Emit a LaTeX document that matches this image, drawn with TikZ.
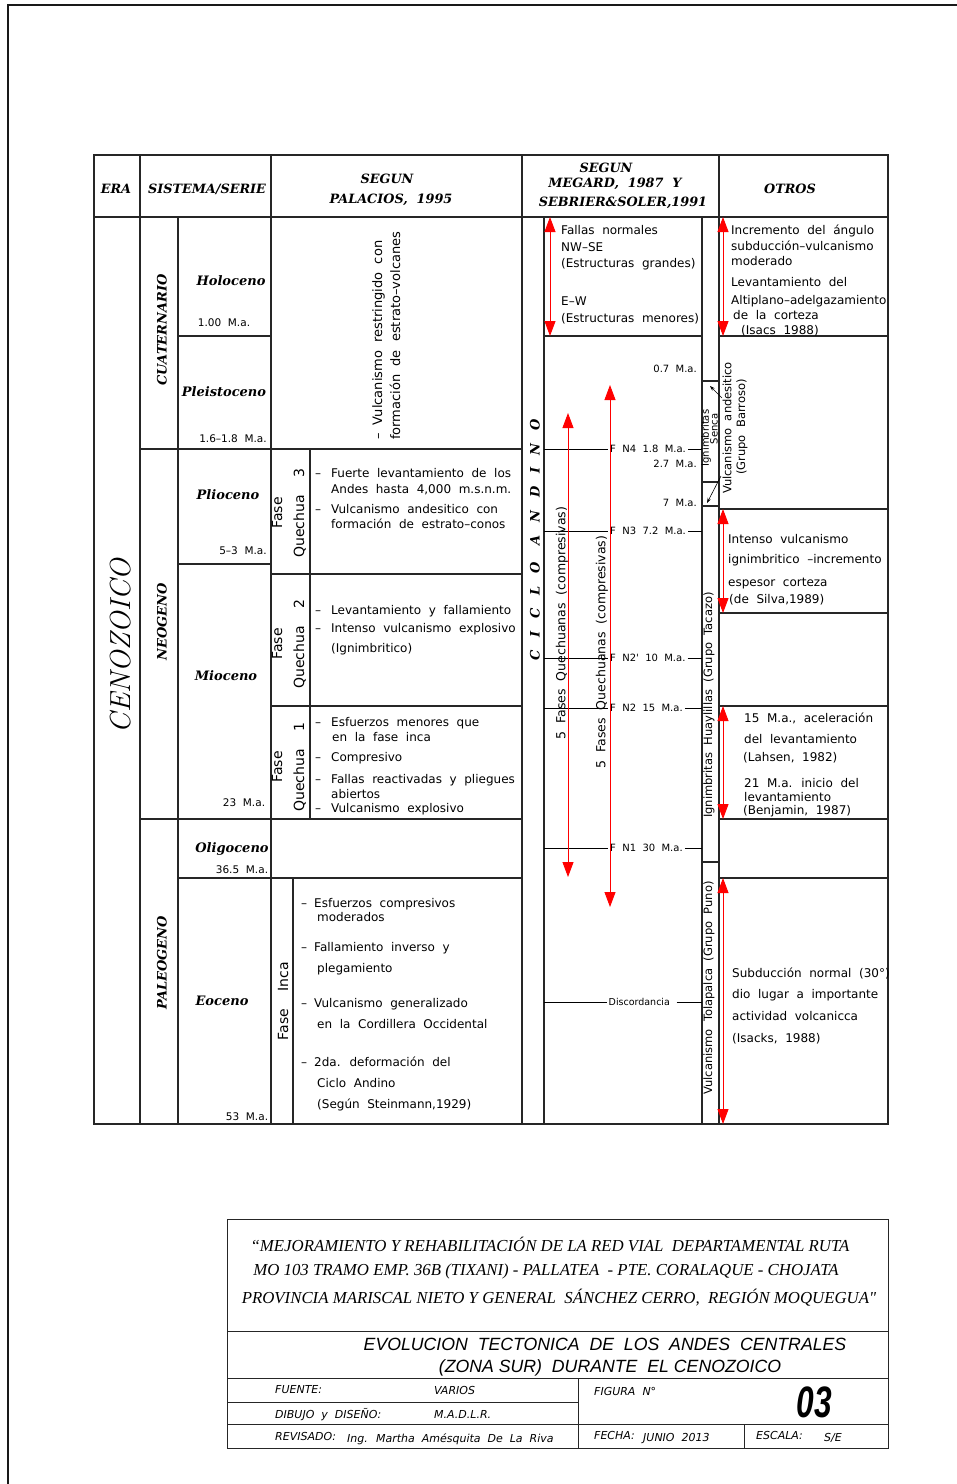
\documentclass[tikz,border=0pt]{standalone}
\usepackage{fontspec}
\usetikzlibrary{arrows.meta}
\newfontfamily\cad[WordSpace=2.0]{DejaVu Sans}
\newfontfamily\tnr{Liberation Serif}
\newfontfamily\ars{Liberation Sans}
\newfontfamily\dvs{DejaVu Serif}
\newfontfamily\cicl[LetterSpace=98]{DejaVu Serif}
\newcommand\dsh[1][16pt]{\makebox[#1][l]{–}}
\begin{document}
\begin{tikzpicture}[x=1pt,y=-1pt,
  tline/.style={line width=1.3pt,draw=black!85},
  bline/.style={line width=1pt,draw=black!85},
  lthin/.style={line width=0.8pt,draw=black},
  tx/.style={font=\cad\fontsize{12}{14}\selectfont,inner sep=0pt,anchor=base west},
  rtx/.style={font=\cad\fontsize{11.5}{13}\selectfont,inner sep=0pt,rotate=90},
  big/.style={font=\cad\fontsize{14}{22}\selectfont,inner sep=0pt,rotate=90,align=center},
  fl/.style={font=\cad\fontsize{10}{12}\selectfont,inner xsep=2pt,inner ysep=0pt,text height=7.3pt,text depth=0pt,anchor=west},
  age/.style={font=\cad\fontsize{10.5}{12}\selectfont,inner sep=0pt},
  hd/.style={font=\dvs\bfseries\itshape\fontsize{12.8}{14}\selectfont,inner sep=0pt},
  ser/.style={font=\dvs\bfseries\itshape\fontsize{13}{15}\selectfont,inner sep=0pt},
  sys/.style={font=\dvs\bfseries\itshape\fontsize{13}{15}\selectfont,inner sep=0pt,rotate=90},
  rarr/.style={draw=red,line width=0.9pt,{Triangle[length=15pt,width=11pt]}-{Triangle[length=15pt,width=11pt]}},
  lead/.style={draw=black,line width=0.6pt,-{Stealth[length=5pt,width=3.5pt]}},
  prj/.style={font=\tnr\itshape\fontsize{16.8}{19}\selectfont,inner sep=0pt,anchor=base},
  ttl/.style={font=\ars\itshape\fontsize{17.7}{20}\selectfont,inner sep=0pt,anchor=base},
  lab/.style={font=\cad\itshape\fontsize{11}{13}\selectfont,inner sep=0pt,anchor=base west},
]
\useasboundingbox (0,0) rectangle (957,1484);
\fill[white] (0,0) rectangle (957,1484);
% page frame
\draw[line width=1.6pt,black!90] (957,5) -- (8,5) -- (8,1484);

% ---------- table grid ----------
\draw[tline] (94,155) rectangle (888,1124);
\draw[tline] (94,217) -- (888,217);
\draw[tline] (140,155) -- (140,1124);
\draw[tline] (271,155) -- (271,1124);
\draw[tline] (522,155) -- (522,1124);
\draw[tline] (719,155) -- (719,1124);
\draw[tline] (178,217) -- (178,1124);
\draw[tline] (544,217) -- (544,1124);
\draw[tline] (702,217) -- (702,1124);
\draw[tline] (310,449) -- (310,819);
\draw[tline] (293,878) -- (293,1124);
\draw[tline] (178,336) -- (271,336);
\draw[tline] (140,449) -- (522,449);
\draw[tline] (178,564) -- (271,564);
\draw[tline] (271,574) -- (522,574);
\draw[tline] (271,706) -- (522,706);
\draw[tline] (140,819) -- (522,819);
\draw[tline] (178,878) -- (522,878);
\draw[tline] (544,336) -- (702,336);
\draw[tline] (719,336) -- (888,336);
\draw[tline] (719,509) -- (888,509);
\draw[tline] (719,613) -- (888,613);
\draw[tline] (719,706) -- (888,706);
\draw[tline] (719,819) -- (888,819);
\draw[tline] (719,878) -- (888,878);
\draw[tline] (702,381) -- (719,381);
\draw[tline] (702,482) -- (719,482);
\draw[tline] (702,506) -- (719,506);
\draw[tline] (702,862) -- (719,862);

% ---------- headers ----------
\node[hd] (hEra) at (116,189) {ERA};
\node[hd] (hSis) at (207,189) {SISTEMA/SERIE};
\node[hd] (hPal1) at (387,179) {SEGUN};
\node[hd] (hPal2) at (391,200) {PALACIOS,\ \ 1995};
\node[hd] (hMeg1) at (606,168) {SEGUN};
\node[hd] (hMeg2) at (615,184) {MEGARD,\ \ 1987\ \ Y};
\node[hd] (hMeg3) at (623,203) {SEBRIER\&SOLER,1991};
\node[hd] (hOtr) at (790,189) {OTROS};

% ---------- era / systems / series ----------
\node[font=\itshape\fontsize{29}{31}\selectfont,inner sep=0pt,rotate=90] (era) at (121,646) {CENOZOICO};
\node[sys] (s1) at (162,330) {CUATERNARIO};
\node[sys] (s2) at (162,622) {NEOGENO};
\node[sys] (s3) at (162,963) {PALEOGENO};
\node[ser] (r1) at (231,281) {Holoceno};
\node[ser] (r2) at (224,392) {Pleistoceno};
\node[ser] (r3) at (228,495) {Plioceno};
\node[ser] (r4) at (226,676) {Mioceno};
\node[ser] (r5) at (232,849) {Oligoceno};
\node[ser] (r6) at (222,1001) {Eoceno};
\node[age] (g1) at (224,323) {1.00 M.a.};
\node[age] (g2) at (233,439) {1.6–1.8 M.a.};
\node[age] (g3) at (243,551) {5–3 M.a.};
\node[age] (g4) at (244,803) {23 M.a.};
\node[age] (g5) at (242,870) {36.5 M.a.};
\node[age] (g6) at (247,1117) {53 M.a.};

% ---------- Palacios ----------
\node[big,font=\cad\fontsize{13}{15}\selectfont,anchor=base west,align=left] (v1) at (382,440) {– Vulcanismo restringido con};
\node[big,font=\cad\fontsize{13}{15}\selectfont,anchor=base west,align=left] (v2) at (400,440) {formación de estrato–volcanes};
\node[big] (q3) at (289,513) {Fase\\Quechua\ \ 3};
\node[big] (q2) at (289,644) {Fase\\Quechua\ \ 2};
\node[big] (q1) at (289,767) {Fase\\Quechua\ \ 1};
\node[big] (qi) at (283,1001) {Fase\ \ Inca};

\node[tx] (a1) at (315,477) {\dsh Fuerte levantamiento de los};
\node[tx] (a2) at (331,493) {Andes hasta 4,000 m.s.n.m.};
\node[tx] (a3) at (315,513) {\dsh Vulcanismo andesitico con};
\node[tx] (a4) at (331,528) {formación de estrato–conos};
\node[tx] (b1) at (315,614) {\dsh Levantamiento y fallamiento};
\node[tx] (b2) at (315,632) {\dsh Intenso vulcanismo explosivo};
\node[tx] (b3) at (331,652) {(Ignimbritico)};
\node[tx] (c1) at (315,726) {\dsh Esfuerzos menores que};
\node[tx] (c2) at (332,741) {en la fase inca};
\node[tx] (c3) at (315,761) {\dsh Compresivo};
\node[tx] (c4) at (315,783) {\dsh Fallas reactivadas y pliegues};
\node[tx] (c5) at (331,798) {abiertos};
\node[tx] (c6) at (315,812) {\dsh Vulcanismo explosivo};
\node[tx] (d1) at (301,907) {\dsh[13pt]Esfuerzos compresivos};
\node[tx] (d2) at (317,921) {moderados};
\node[tx] (d3) at (301,951) {\dsh[13pt]Fallamiento inverso y};
\node[tx] (d4) at (317,972) {plegamiento};
\node[tx] (d5) at (301,1007) {\dsh[13pt]Vulcanismo generalizado};
\node[tx] (d6) at (317,1028) {en la Cordillera Occidental};
\node[tx] (d7) at (301,1066) {\dsh[13pt]2da. deformación del};
\node[tx] (d8) at (317,1087) {Ciclo Andino};
\node[tx] (d9) at (317,1108) {(Según Steinmann,1929)};

% ---------- Megard / Sebrier ----------
\node[font=\cicl\bfseries\itshape\fontsize{13}{15}\selectfont,inner sep=0pt,rotate=90] (ciclo) at (535,540) {CICLO ANDINO};
\node[tx] (m1) at (561,234) {Fallas normales};
\node[tx] (m2) at (561,251) {NW–SE};
\node[tx] (m3) at (561,267) {(Estructuras grandes)};
\node[tx] (m4) at (561,305) {E–W};
\node[tx] (m5) at (561,322) {(Estructuras menores)};
\node[rtx,font=\cad\fontsize{12.5}{14}\selectfont] (fq1) at (562,623) {5 Fases Quechuanas (compresivas)};
\node[rtx,font=\cad\fontsize{12.5}{14}\selectfont] (fq2) at (602,652) {5 Fases Quechuanas (compresivas)};

\node[fl,anchor=east] (k1) at (699,369) {0.7 M.a.};
\node[fl,anchor=east] (k2) at (699,464) {2.7 M.a.};
\node[fl,anchor=east] (k3) at (699,503) {7 M.a.};

\coordinate (fL1) at (544,449); \coordinate (fR1) at (702,449);
\coordinate (fL2) at (544,531); \coordinate (fR2) at (702,531);
\coordinate (fL3) at (544,658); \coordinate (fR3) at (702,658);
\coordinate (fL4) at (544,708); \coordinate (fR4) at (702,708);
\coordinate (fL5) at (544,848); \coordinate (fR5) at (702,848);
\coordinate (fL6) at (544,1002); \coordinate (fR6) at (702,1002);
\node[fl] (f1) at (608,449) {F N4 1.8 M.a.};
\node[fl] (f2) at (608,531) {F N3 7.2 M.a.};
\node[fl] (f3) at (608,658) {F N2' 10 M.a.};
\node[fl] (f4) at (608,708) {F N2 15 M.a.};
\node[fl] (f5) at (608,848) {F N1 30 M.a.};
\node[fl,font=\cad\fontsize{9.5}{11}\selectfont,inner xsep=1.5pt] (f6) at (607,1002) {Discordancia};
\draw[lthin] (fL1) -- (f1.west); \draw[lthin] (f1.east) -- (fR1);
\draw[lthin] (fL2) -- (f2.west); \draw[lthin] (f2.east) -- (fR2);
\draw[lthin] (fL3) -- (f3.west); \draw[lthin] (f3.east) -- (fR3);
\draw[lthin] (fL4) -- (f4.west); \draw[lthin] (f4.east) -- (fR4);
\draw[lthin] (fL5) -- (f5.west); \draw[lthin] (f5.east) -- (fR5);
\draw[lthin] (fL6) -- (f6.west); \draw[lthin] ([xshift=5pt]f6.east) -- (fR6);

% narrow volcanic column
\node[rtx,font=\cad\fontsize{10}{11}\selectfont] (ig1) at (706,438) {Ignimbritas};
\node[rtx,font=\cad\fontsize{10}{11}\selectfont] (ig2) at (714,429) {Senca};
\node[rtx] (va1) at (727,428) {Vulcanismo andesitico};
\node[rtx] (va2) at (742,427) {(Grupo Barroso)};
\node[rtx] (hu) at (709,705) {Ignimbritas Huaylillas (Grupo Tacazo)};
\node[rtx] (tp) at (709,988) {Vulcanismo Tolapalca (Grupo Puno)};
\coordinate (ld1s) at (722,398); \coordinate (ld1e) at (710,386);
\coordinate (ld2s) at (721,476); \coordinate (ld2e) at (707,503);
\draw[lead] (ld1s) -- (ld1e);
\draw[lead] (ld2s) -- (ld2e);

% ---------- Otros ----------
\node[tx] (o1) at (731,234) {Incremento del ángulo};
\node[tx] (o2) at (731,250) {subducción–vulcanismo};
\node[tx] (o3) at (731,265) {moderado};
\node[tx] (o4) at (731,286) {Levantamiento del};
\node[tx] (o5) at (731,304) {Altiplano–adelgazamiento};
\node[tx] (o6) at (733,319) {de la corteza};
\node[tx] (o7) at (741,334) {(Isacs 1988)};
\node[tx] (o8) at (728,543) {Intenso vulcanismo};
\node[tx] (o9) at (728,563) {ignimbritico –incremento};
\node[tx] (o10) at (728,586) {espesor corteza};
\node[tx] (o11) at (729,603) {(de Silva,1989)};
\node[tx] (o12) at (744,722) {15 M.a., aceleración};
\node[tx] (o13) at (744,743) {del levantamiento};
\node[tx] (o14) at (743,761) {(Lahsen, 1982)};
\node[tx] (o15) at (744,787) {21 M.a. inicio del};
\node[tx] (o16) at (744,801) {levantamiento};
\node[tx] (o17) at (743,814) {(Benjamin, 1987)};
\node[tx] (o18) at (732,977) {Subducción normal (30°)};
\node[tx] (o19) at (732,998) {dio lugar a importante};
\node[tx] (o20) at (732,1020) {actividad volcanicca};
\node[tx] (o21) at (732,1042) {(Isacks, 1988)};

% ---------- red range arrows ----------
\coordinate (rA1) at (550,217); \coordinate (rA2) at (550,336);
\coordinate (rB1) at (723,217); \coordinate (rB2) at (723,336);
\coordinate (rC1) at (723,509); \coordinate (rC2) at (723,613);
\coordinate (rD1) at (723,706); \coordinate (rD2) at (723,819);
\coordinate (rE1) at (723,878); \coordinate (rE2) at (723,1124);
\coordinate (rF1) at (568,413); \coordinate (rF2) at (568,877);
\coordinate (rG1) at (610,385); \coordinate (rG2) at (610,907);
\draw[rarr] (rA1) -- (rA2);
\draw[rarr] (rB1) -- (rB2);
\draw[rarr] (rC1) -- (rC2);
\draw[rarr] (rD1) -- (rD2);
\draw[rarr] (rE1) -- (rE2);
\draw[rarr] (rF1) -- (rF2);
\draw[rarr] (rG1) -- (rG2);

% ---------- title block ----------
\draw[bline] (227,1219) rectangle (888,1448);
\draw[bline] (227,1331) -- (888,1331);
\draw[bline] (227,1378) -- (888,1378);
\draw[bline] (227,1402) -- (578,1402);
\draw[bline] (227,1424) -- (888,1424);
\draw[bline] (578,1378) -- (578,1448);
\draw[bline] (744,1424) -- (744,1448);
\node[prj] (p1) at (550,1251) {“MEJORAMIENTO Y REHABILITACIÓN DE LA RED VIAL\ \ DEPARTAMENTAL RUTA};
\node[prj] (p2) at (546,1275) {MO 103 TRAMO EMP. 36B (TIXANI) - PALLATEA\ \ - PTE. CORALAQUE - CHOJATA};
\node[prj] (p3) at (559,1303) {PROVINCIA MARISCAL NIETO Y GENERAL\ \ SÁNCHEZ CERRO,\ \ REGIÓN MOQUEGUA"};
\node[ttl] (e1) at (605,1350) {EVOLUCION\ \ TECTONICA\ \ DE\ \ LOS\ \ ANDES\ \ CENTRALES};
\node[ttl] (e2) at (610,1372) {(ZONA SUR)\ \ DURANTE\ \ EL CENOZOICO};
\node[lab] (l1) at (275,1393) {FUENTE:};
\node[lab] (l2) at (434,1394) {VARIOS};
\node[lab] (l3) at (275,1418) {DIBUJO y DISEÑO:};
\node[lab] (l4) at (434,1418) {M.A.D.L.R.};
\node[lab] (l5) at (275,1440) {REVISADO:};
\node[lab] (l6) at (347,1442) {Ing. Martha Amésquita De La Riva};
\node[lab] (l7) at (594,1395) {FIGURA N°};
\node[lab] (l8) at (594,1439) {FECHA:};
\node[lab] (l9) at (643,1441) {JUNIO 2013};
\node[lab] (l10) at (756,1439) {ESCALA:};
\node[lab] (l11) at (824,1441) {S/E};
\node[font=\ars\bfseries\itshape\fontsize{44}{44}\selectfont,inner sep=0pt] (num) at (814,1402) {\scalebox{0.72}[1]{03}};
\end{tikzpicture}
\end{document}
